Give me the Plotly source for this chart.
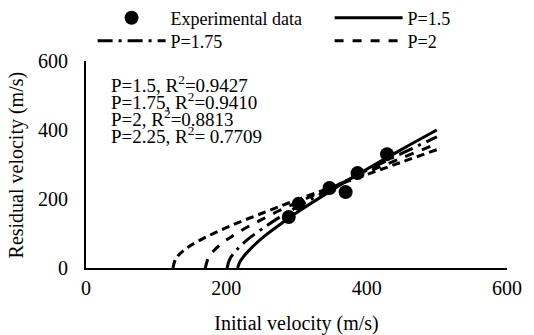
import plotly.graph_objects as go

# Experimental data
exp_vi = [289, 303, 347, 370, 387, 429]
exp_vr = [148, 186, 232, 220, 275, 330]

# Fitted curves
p15_vi = [216, 220, 230, 250, 275, 300, 350, 400, 450, 500]
p15_vr = [0, 20, 46, 85, 124, 160, 225, 286, 344, 400]

p175_vi = [201, 205, 215, 230, 250, 275, 300, 350, 400, 450, 500]
p175_vr = [0, 26, 53, 82, 112, 146, 176, 231, 283, 332, 380]

p2_vi = [170, 175, 185, 200, 225, 250, 275, 300, 350, 400, 450, 500]
p2_vr = [0, 32, 56, 81, 113, 140, 166, 189, 234, 277, 319, 360]

p225_vi = [124, 128, 140, 160, 200, 250, 300, 350, 400, 450, 500]
p225_vr = [0, 27, 52, 78, 117, 158, 197, 234, 271, 307, 343]

fit_labels = ["P=1.5, R<sup>2</sup>=0.9427", "P=1.75, R<sup>2</sup>=0.9410",
              "P=2, R<sup>2</sup>=0.8813", "P=2.25, R<sup>2</sup>= 0.7709"]
fit_label_y = [510, 461, 412, 362]

FONT = "Times New Roman, Liberation Serif, serif"
fig = go.Figure()

fig.add_trace(go.Scatter(x=exp_vi, y=exp_vr, mode="markers", name="Experimental data",
                         legend="legend", marker=dict(color="black", size=14)))
fig.add_trace(go.Scatter(x=p15_vi, y=p15_vr, mode="lines", name="P=1.5", line_shape="spline",
                         legend="legend", line=dict(color="black", width=3)))
fig.add_trace(go.Scatter(x=p175_vi, y=p175_vr, mode="lines", name="P=1.75", line_shape="spline",
                         legend="legend2", line=dict(color="black", width=3, dash="longdashdot")))
fig.add_trace(go.Scatter(x=p2_vi, y=p2_vr, mode="lines", name="P=2", line_shape="spline",
                         legend="legend2", line=dict(color="black", width=3, dash="dash")))
fig.add_trace(go.Scatter(x=p225_vi, y=p225_vr, mode="lines", name="P=2.25", line_shape="spline",
                         showlegend=False,
                         line=dict(color="black", width=3, dash="8px,5px")))

for txt, yy in zip(fit_labels, fit_label_y):
    fig.add_annotation(x=33, y=yy, text=txt, showarrow=False, xanchor="left", yanchor="middle",
                       yshift=8, font=dict(family=FONT, size=19, color="black"))

# y-axis title placed as rotated text in the left margin
fig.add_annotation(xref="paper", yref="paper", x=-0.164, y=0.5, text="Residual velocity (m/s)",
                   textangle=-90, showarrow=False, xanchor="center", yanchor="middle",
                   font=dict(family=FONT, size=20, color="black"))

plot_h = 335 - 61 - 67
leg_common = dict(orientation="h", xref="paper", yref="paper",
                  xanchor="left", yanchor="middle", entrywidth=147, entrywidthmode="pixels",
                  itemwidth=68, indentation=7, font=dict(family=FONT, size=18, color="black"),
                  bgcolor="rgba(0,0,0,0)", traceorder="normal")

fig.update_layout(
    width=534, height=335,
    margin=dict(l=86, r=27, t=61, b=67, autoexpand=False),
    paper_bgcolor="white", plot_bgcolor="white",
    font=dict(family=FONT, size=20, color="black"),
    showlegend=True,
    legend=dict(x=-0.001, y=1 + (61 - 18) / plot_h, **leg_common),
    legend2=dict(x=-0.001, y=1 + (61 - 41) / plot_h, **leg_common),
    xaxis=dict(range=[0, 600], tickvals=[0, 200, 400, 600], showline=True, linecolor="black",
               linewidth=2, showgrid=False, zeroline=False, ticks="", ticklabelstandoff=1,
               tickfont=dict(family=FONT, size=20, color="black"),
               title=dict(text="Initial velocity (m/s)", standoff=19,
                          font=dict(family=FONT, size=20, color="black"))),
    yaxis=dict(range=[0, 600], tickvals=[0, 200, 400, 600], showline=True, linecolor="black",
               linewidth=2, showgrid=False, zeroline=False, ticks="", ticklabelstandoff=12,
               tickfont=dict(family=FONT, size=20, color="black")),
)

fig.write_html("out.html", config={"displayModeBar": False},
               post_script="document.body.style.margin='0';")
